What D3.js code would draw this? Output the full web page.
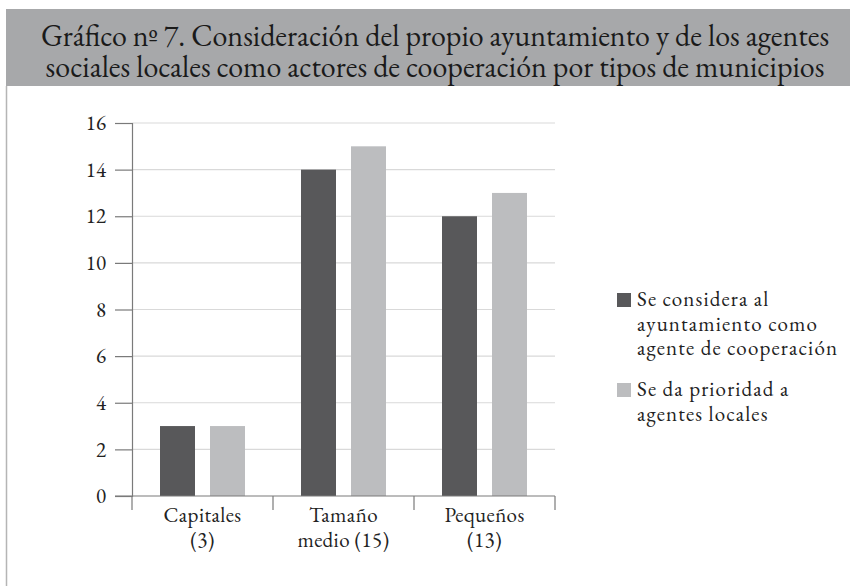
<!DOCTYPE html>
<html>
<head>
<meta charset="utf-8">
<script src="https://cdn.jsdelivr.net/npm/d3@7"></script>
<style>
  html, body { margin: 0; padding: 0; background: #fff; }
</style>
</head>
<body>
<div id="chart"></div>
<script>
"use strict";

const categories = [["Capitales", "(3)"], ["Tamaño", "medio (15)"], ["Pequeños", "(13)"]];
const seriesNames = [
  ["Se considera al", "ayuntamiento como", "agente de cooperación"],
  ["Se da prioridad a", "agentes locales"],
];
const ayuntamiento = [3, 14, 12];
const agentesLocales = [3, 15, 13];
const yTicks = [0, 2, 4, 6, 8, 10, 12, 14, 16];
const titleLines = [
  "Gráfico nº 7. Consideración del propio ayuntamiento y de los agentes",
  "sociales locales como actores de cooperación por tipos de municipios",
];

(function renderChart() {
  const width = 850;
  const height = 586;
  const colors = ["#58585a", "#bcbdbf"];
  const series = [ayuntamiento, agentesLocales];
  const serif = "'EB Garamond', 'Liberation Serif', serif";

  const svg = d3.select("#chart").append("svg")
    .attr("width", width)
    .attr("height", height)
    .style("font-family", serif)
    .style("font-variant-numeric", "lining-nums");

  // header band
  svg.append("rect")
    .attr("x", 6).attr("y", 9)
    .attr("width", width - 6).attr("height", 77)
    .attr("fill", "#a7a8aa");

  svg.append("line")
    .attr("x1", 6.5).attr("x2", 6.5)
    .attr("y1", 86).attr("y2", height)
    .attr("stroke", "#b5b5b5").attr("stroke-width", 1.5);

  const titles = svg.selectAll("text.title")
    .data(titleLines)
    .join("text")
    .attr("class", "title")
    .attr("x", 435)
    .attr("y", (_, i) => 46 + i * 31)
    .attr("text-anchor", "middle")
    .style("font-family", serif)
    .attr("font-size", 26)
    .attr("fill", "#1a1a1a")
    .text((d) => d);
  // fit the title lines to the width they have in the picture
  const widths = titles.nodes().map((n) => n.getComputedTextLength());
  const meanWidth = d3.mean(widths);
  if (meanWidth > 0) titles.attr("font-size", (26 * 784) / meanWidth);

  const margin = { left: 132, right: 295, top: 123, bottom: 90 };
  const innerWidth = width - margin.left - margin.right;
  const innerHeight = height - margin.top - margin.bottom;
  const g = svg.append("g").attr("transform", `translate(${margin.left},${margin.top})`);

  const x = d3.scaleBand().domain(d3.range(categories.length)).range([0, innerWidth]);
  const x1 = d3.scaleBand().domain([0, 1]).range([28, x.bandwidth() - 28]).paddingInner(0.3);
  const y = d3.scaleLinear().domain([0, 16]).range([innerHeight, 0]);

  g.selectAll("line.grid")
    .data(yTicks.filter((v) => v > 0))
    .join("line")
    .attr("x1", 0).attr("x2", innerWidth)
    .attr("y1", (v) => y(v)).attr("y2", (v) => y(v))
    .attr("stroke", "#d9d9d9").attr("stroke-width", 1.2);

  series.forEach((values, s) => {
    g.selectAll(`rect.s${s}`)
      .data(values)
      .join("rect")
      .attr("class", `s${s}`)
      .attr("x", (_, i) => x(i) + x1(s))
      .attr("y", (v) => y(v))
      .attr("width", x1.bandwidth())
      .attr("height", (v) => innerHeight - y(v))
      .attr("fill", colors[s]);
  });

  g.append("g")
    .call(d3.axisLeft(y).tickValues(yTicks).tickSize(17).tickPadding(9))
    .call((axis) => axis.attr("font-family", null).style("font-family", serif))
    .call((axis) => axis.selectAll("text").attr("font-size", 21).attr("fill", "#222"))
    .call((axis) => axis.selectAll("line").attr("stroke", "#7a7a7a").attr("stroke-width", 1.2))
    .call((axis) => axis.select(".domain").attr("stroke", "#7a7a7a").attr("stroke-width", 1.2));

  const xAxis = g.append("g").attr("transform", `translate(0,${innerHeight})`);
  xAxis.append("line")
    .attr("x1", -17).attr("x2", innerWidth)
    .attr("stroke", "#7a7a7a").attr("stroke-width", 1.2);
  xAxis.selectAll("line.tick")
    .data(d3.range(categories.length + 1))
    .join("line")
    .attr("class", "tick")
    .attr("x1", (i) => i * x.bandwidth()).attr("x2", (i) => i * x.bandwidth())
    .attr("y1", 0).attr("y2", 14)
    .attr("stroke", "#7a7a7a").attr("stroke-width", 1.2);
  categories.forEach((lines, i) => {
    xAxis.selectAll(`text.c${i}`)
      .data(lines)
      .join("text")
      .attr("class", `c${i}`)
      .attr("x", x(i) + x.bandwidth() / 2)
      .attr("y", (_, k) => 26 + k * 25)
      .attr("text-anchor", "middle")
      .attr("font-size", 21)
      .attr("letter-spacing", 0.4)
      .attr("fill", "#222")
      .text((d) => d);
  });

  // legend
  const legend = svg.append("g").attr("transform", "translate(617,293)");
  const legendOffsets = [0, 90];
  const legendTexts = [];
  seriesNames.forEach((lines, s) => {
    const item = legend.append("g").attr("transform", `translate(0,${legendOffsets[s]})`);
    item.append("rect")
      .attr("width", 14).attr("height", 14)
      .attr("fill", colors[s]);
    item.selectAll("text")
      .data(lines)
      .join("text")
      .attr("x", 20)
      .attr("y", (_, k) => 13 + k * 24.5)
      .attr("font-size", 21)
      .attr("fill", "#222")
      .text((d) => d)
      .each(function () { legendTexts.push(this); });
  });
  // the printed face is wider than EB Garamond: open it up to the longest line's width
  const longest = legendTexts.find((n) => n.textContent === "agente de cooperación");
  const measured = longest ? longest.getComputedTextLength() : 0;
  if (measured > 0) {
    const spacing = Math.max(0, (200 - measured) / (longest.textContent.length - 1));
    d3.selectAll(legendTexts).attr("letter-spacing", spacing);
  }
})();
</script>
</body>
</html>
